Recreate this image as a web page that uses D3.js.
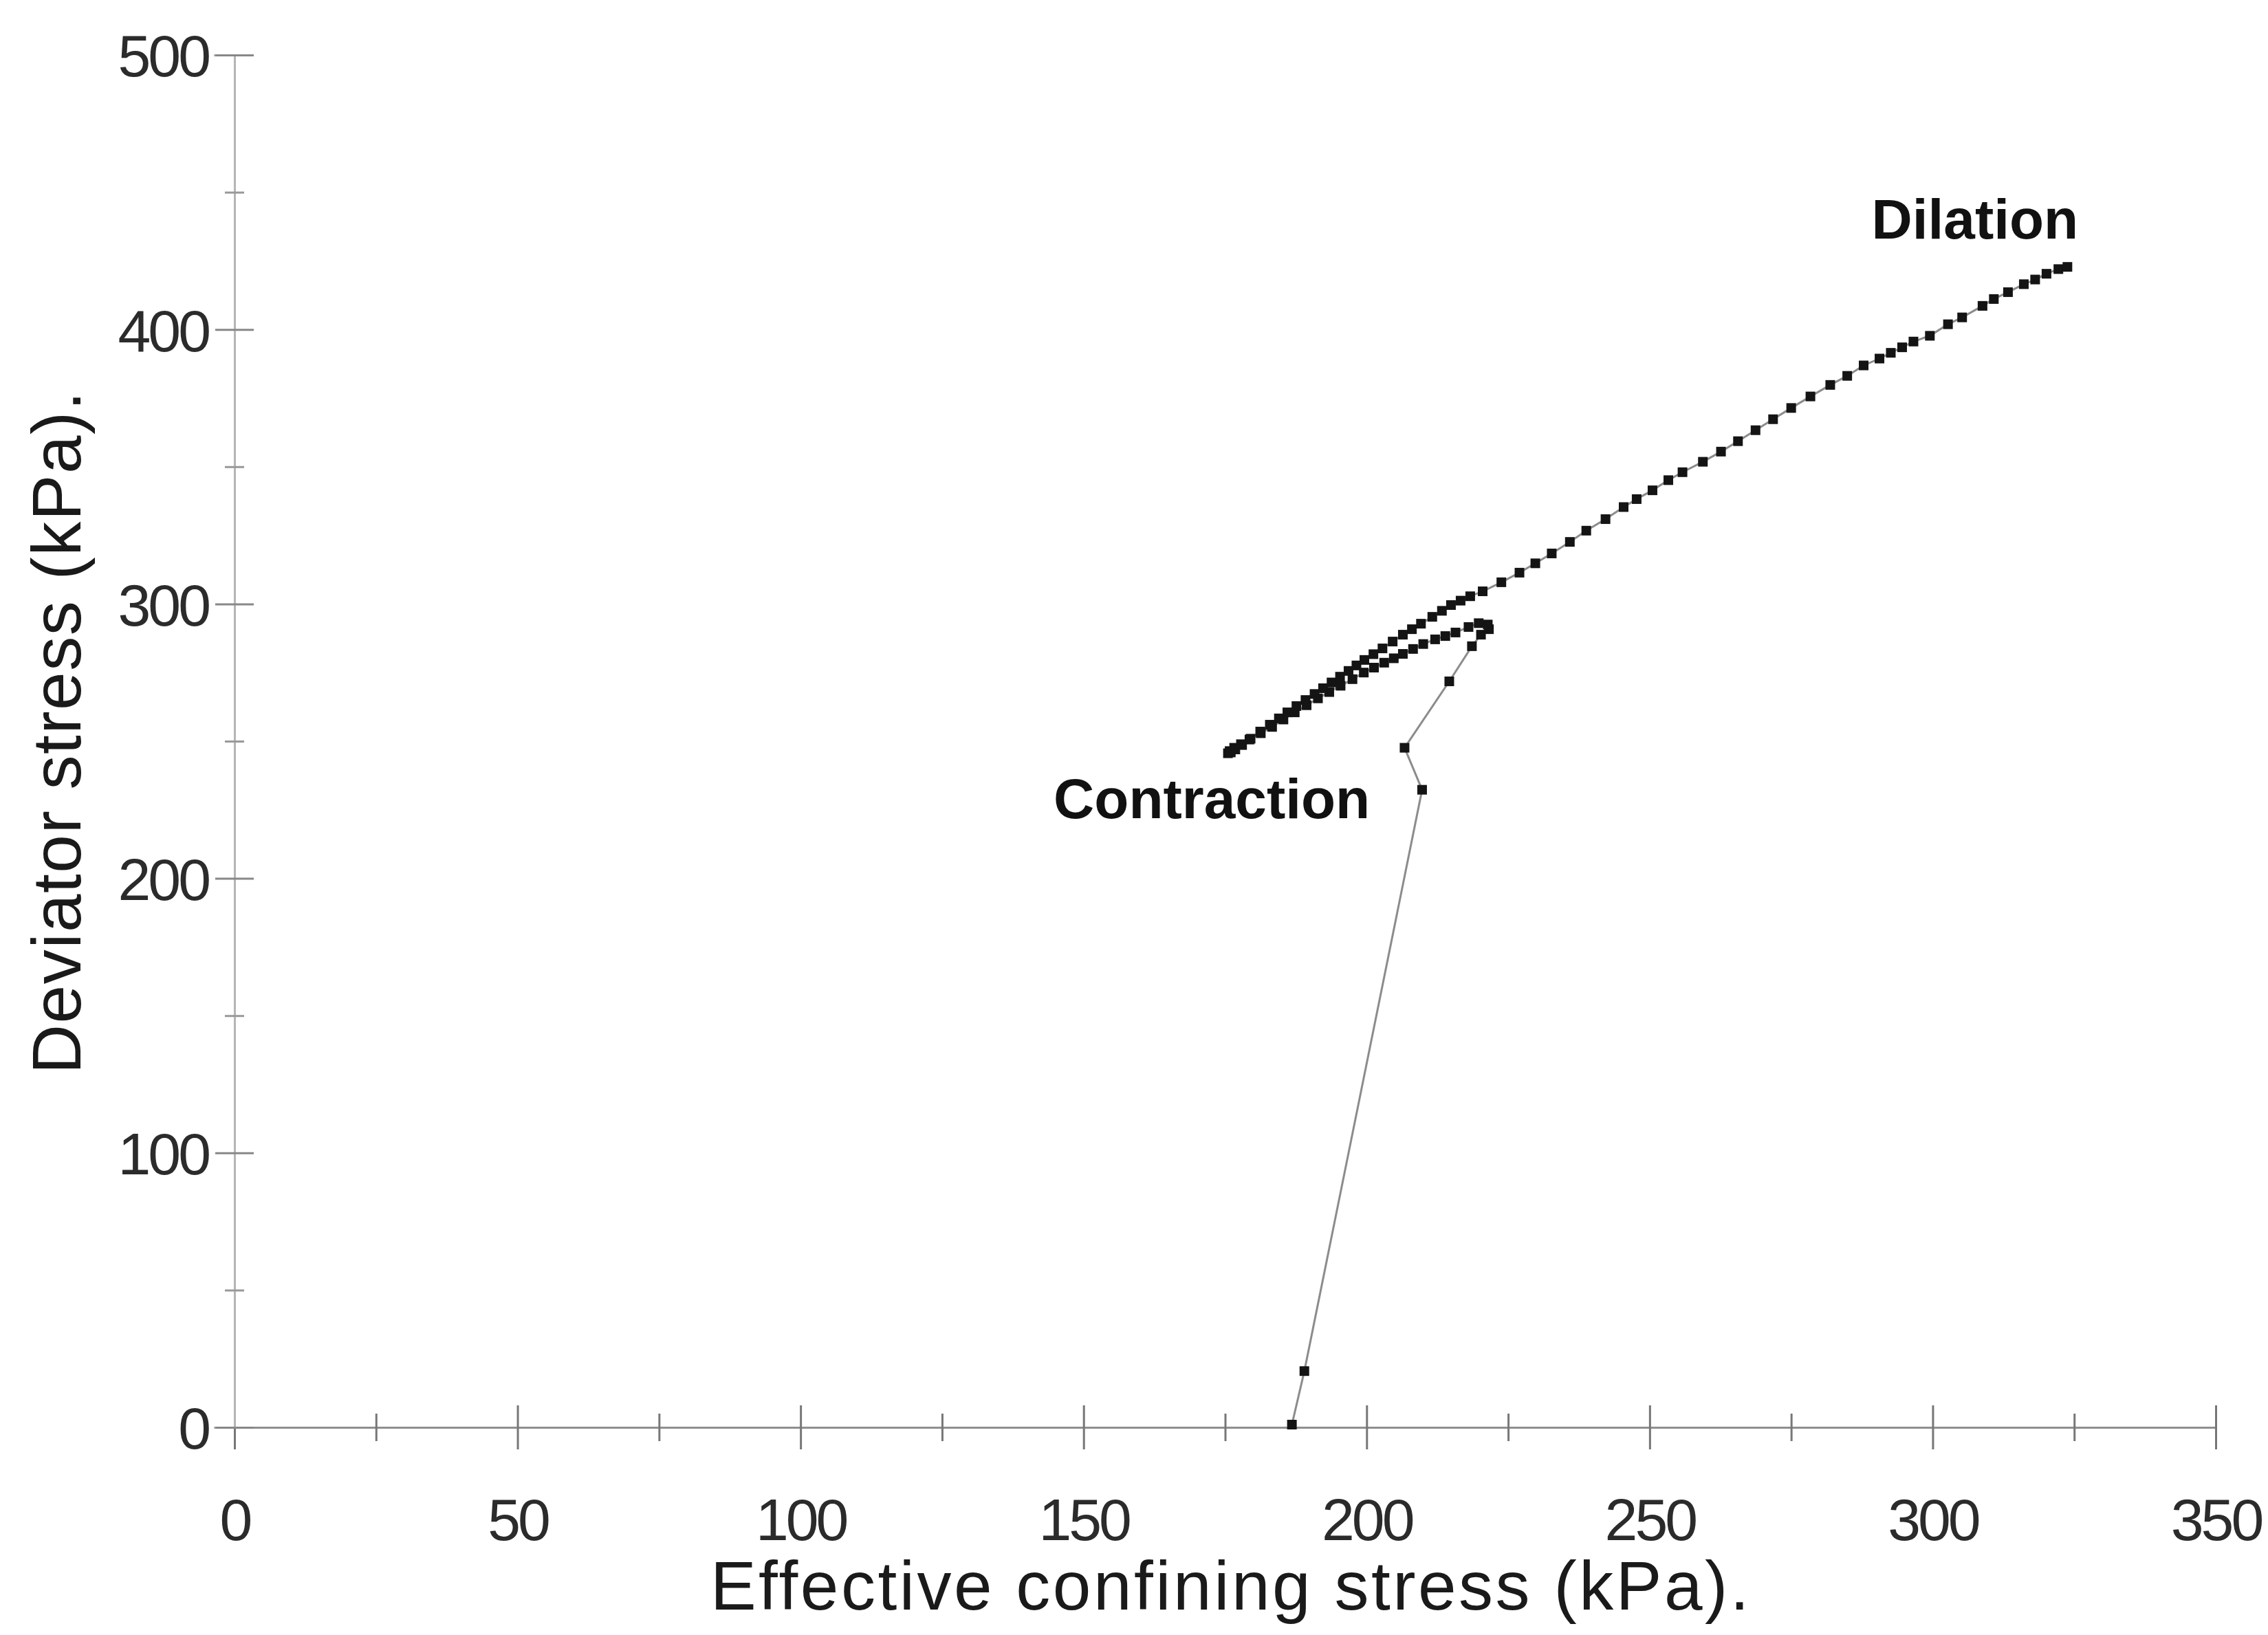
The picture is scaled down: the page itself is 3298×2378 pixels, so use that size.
<!DOCTYPE html>
<html>
<head>
<meta charset="utf-8">
<script src="https://cdn.jsdelivr.net/npm/d3@7"></script>
<style>
  html, body { margin: 0; padding: 0; background: #ffffff; }
  svg { display: block; }
</style>
</head>
<body>
<svg id="chart" width="3298" height="2378"></svg>
<script>
// Axis ticks
const xTicks = [0, 50, 100, 150, 200, 250, 300, 350];
const xMinorTicks = [25, 75, 125, 175, 225, 275, 325];
const yTicks = [0, 100, 200, 300, 400, 500];
const yMinorTicks = [50, 150, 250, 350, 450];

// Undrained stress path, in test order:
// effective confining stress p' (kPa) and deviator stress q (kPa)
const pEff = [
  186.8, 189.0, 209.8, 206.7, 214.6, 218.6,
  220.2, 221.6, 221.4, 219.8, 218.0, 215.7,
  213.9, 212.1, 210.0, 208.2, 206.4, 204.8, 203.1, 201.3, 199.5, 197.5,
  195.4, 193.4, 191.4, 189.4, 187.3, 185.3, 183.3, 181.3, 179.3, 177.8,
  176.6, 175.8, 175.5, 176.0,
  176.8, 178.0, 179.5, 181.2, 182.9, 184.5, 186.0, 187.6, 189.2, 190.8,
  192.3, 193.8, 195.3, 196.8, 198.2, 199.6, 201.2, 202.8, 204.6, 206.4,
  208.0, 209.6, 211.6, 213.3, 214.9, 216.6, 218.3, 220.5, 223.8, 227.0,
  229.8, 232.7, 235.9, 238.8, 242.2, 245.4, 247.7, 250.5, 253.3, 255.8,
  259.4, 262.6, 265.6, 268.7, 271.8, 275.0, 278.4, 281.9, 284.9, 287.8,
  290.6, 292.6, 294.6, 296.6, 299.5, 302.7, 305.2, 308.8, 310.8, 313.3,
  316.1, 318.1, 320.1, 322.2, 323.8
];
const qDev = [
  1.0, 20.5, 232.3, 247.6, 271.8, 284.6,
  288.8, 290.8, 292.5, 293.0, 291.6, 289.6,
  288.3, 287.1, 285.4, 283.6, 281.8, 280.2, 278.6, 276.8, 275.0, 272.6,
  270.2, 267.9, 265.6, 263.1, 260.5, 257.9, 255.2, 252.9, 250.6, 248.9,
  247.6, 246.4, 245.6, 245.9,
  247.0, 248.6, 250.9, 253.5, 256.0, 258.3, 260.5, 262.8, 265.0, 267.2,
  269.3, 271.4, 273.5, 275.6, 277.6, 279.6, 281.7, 283.8, 286.3, 288.8,
  290.8, 292.8, 295.3, 297.5, 299.6, 301.2, 302.8, 304.6, 307.9, 311.4,
  314.8, 318.4, 322.6, 326.7, 330.9, 335.3, 338.2, 341.4, 345.1, 348.0,
  351.8, 355.5, 359.3, 363.3, 367.3, 371.4, 375.6, 379.8, 383.1, 386.9,
  389.4, 391.5, 393.5, 395.6, 397.7, 401.9, 404.4, 408.6, 411.1, 413.6,
  416.5, 418.2, 420.3, 422.0, 422.8
];

const noteTexts = ["Dilation", "Contraction"];
const xTitle = "Effective confining stress (kPa).";
const yTitle = "Deviator stress (kPa).";

const FONT = "'Liberation Sans', Arial, Helvetica, sans-serif";
const svg = d3.select("#chart");

const x = d3.scaleLinear().domain([0, 350]).range([341, 3222]);
const y = d3.scaleLinear().domain([0, 500]).range([2076, 80]);

const points = pEff.map((p, i) => ({ p, q: qDev[i] }));

// ---- axes ----
function styleAxis(g) {
  g.attr("font-family", FONT);
  g.select(".domain").attr("stroke", "#8f8f8f").attr("stroke-width", 3);
}

// x axis: major ticks with labels, ticks crossing the axis line
const gx = svg.append("g").attr("transform", `translate(0,${y(0)})`)
  .call(d3.axisBottom(x).tickValues(xTicks).tickSizeOuter(0).tickSize(30).tickPadding(0)
    .tickFormat(d3.format("d")))
  .call(styleAxis);
gx.selectAll(".tick line").attr("y1", -32).attr("y2", 32)
  .attr("stroke", "#777").attr("stroke-width", 3);
gx.selectAll(".tick text")
  .attr("y", 164).attr("dy", 0)
  .attr("font-size", 86).attr("letter-spacing", -4)
  .attr("fill", "#2b2b2b");

const gxm = svg.append("g").attr("transform", `translate(0,${y(0)})`)
  .call(d3.axisBottom(x).tickValues(xMinorTicks).tickSizeOuter(0).tickFormat(""));
gxm.select(".domain").remove();
gxm.selectAll(".tick line").attr("y1", -20).attr("y2", 20)
  .attr("stroke", "#777").attr("stroke-width", 3);

// y axis
const gy = svg.append("g").attr("transform", `translate(${x(0)},0)`)
  .call(d3.axisLeft(y).tickValues(yTicks).tickSizeOuter(0).tickSize(30).tickPadding(0)
    .tickFormat(d3.format("d")))
  .call(styleAxis);
gy.select(".domain").attr("stroke", "#b5b5b5");
gy.selectAll(".tick line").attr("x1", -28).attr("x2", 28)
  .attr("stroke", "#888").attr("stroke-width", 3);
gy.selectAll(".tick text")
  .attr("x", -38).attr("dy", "0.36em")
  .attr("font-size", 86).attr("letter-spacing", -4)
  .attr("fill", "#2b2b2b");

const gym = svg.append("g").attr("transform", `translate(${x(0)},0)`)
  .call(d3.axisLeft(y).tickValues(yMinorTicks).tickSizeOuter(0).tickFormat(""));
gym.select(".domain").remove();
gym.selectAll(".tick line").attr("x1", -14).attr("x2", 14)
  .attr("stroke", "#999").attr("stroke-width", 3);

// ---- axis titles ----
svg.append("text")
  .attr("x", 1790).attr("y", 2341)
  .attr("text-anchor", "middle")
  .attr("font-family", FONT).attr("font-size", 100).attr("letter-spacing", 3.5)
  .attr("fill", "#1a1a1a")
  .text(xTitle);

svg.append("text")
  .attr("transform", "translate(117,1065) rotate(-90)")
  .attr("text-anchor", "middle")
  .attr("font-family", FONT).attr("font-size", 100).attr("letter-spacing", 1.5)
  .attr("fill", "#1a1a1a")
  .text(yTitle);

// ---- stress path ----
const line = d3.line().x(d => x(d.p)).y(d => y(d.q));
svg.append("path")
  .datum(points)
  .attr("d", line)
  .attr("fill", "none")
  .attr("stroke", "#8c8c8c")
  .attr("stroke-width", 3);

const M = 14;
svg.append("g").selectAll("rect")
  .data(points)
  .join("rect")
  .attr("x", d => x(d.p) - M / 2)
  .attr("y", d => y(d.q) - M / 2)
  .attr("width", M).attr("height", M)
  .attr("fill", "#141414");

// ---- annotations ----
svg.append("text")
  .attr("x", x(289.2)).attr("y", y(433.1))
  .attr("font-family", FONT).attr("font-weight", "bold").attr("font-size", 82)
  .attr("fill", "#111")
  .text(noteTexts[0]);

svg.append("text")
  .attr("x", x(144.7)).attr("y", y(221.9))
  .attr("font-family", FONT).attr("font-weight", "bold").attr("font-size", 82)
  .attr("fill", "#111")
  .text(noteTexts[1]);
</script>
</body>
</html>
